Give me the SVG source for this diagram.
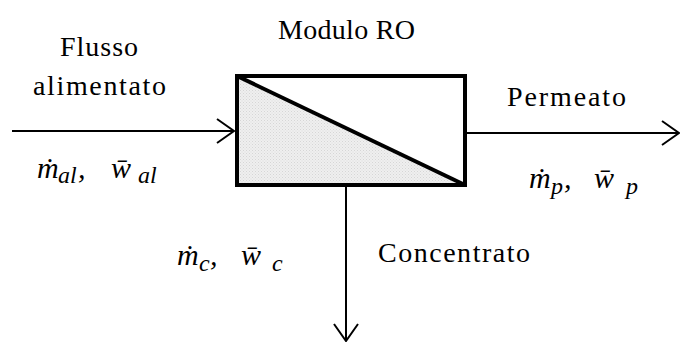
<svg xmlns="http://www.w3.org/2000/svg" width="680" height="342" viewBox="0 0 680 342">
  <style>
    .lbl { font-family: "Liberation Serif", "Times New Roman", serif; font-size: 28px; fill: #000; }
    .math { font-family: "Liberation Serif", "Times New Roman", serif; font-style: italic; font-size: 30px; fill: #000; }
    .sub { font-size: 24px; }
    .conn { stroke: #000; stroke-width: 2; fill: none; }
    .box { stroke: #000; stroke-width: 4; }
  </style>
  <defs>
    <pattern id="dots" width="3" height="3" patternUnits="userSpaceOnUse">
      <rect width="3" height="3" fill="#efefef"/>
      <rect x="0" y="0" width="1" height="1" fill="#d6d6d6"/>
      <rect x="1.5" y="1.5" width="1" height="1" fill="#dcdcdc"/>
    </pattern>
    <marker id="arrow" markerUnits="userSpaceOnUse" markerWidth="24" markerHeight="30" viewBox="-20 -15 24 30" refX="0" refY="0" orient="auto" overflow="visible">
      <path d="M-17,-12 L0,0 L-17,12" fill="none" stroke="#000" stroke-width="2"/>
    </marker>
  </defs>
  <rect width="680" height="342" fill="#fff"/>

  <g id="connectors">
    <line class="conn" x1="12" y1="131" x2="234" y2="131" marker-end="url(#arrow)"/>
    <line class="conn" x1="467" y1="133" x2="679" y2="133" marker-end="url(#arrow)"/>
    <line class="conn" x1="346" y1="187" x2="346" y2="341" marker-end="url(#arrow)"/>
  </g>

  <g id="module">
    <rect x="237" y="76" width="228" height="109" fill="#fff" class="box"/>
    <polygon points="237,76 465,185 237,185" fill="url(#dots)"/>
    <rect x="237" y="76" width="228" height="109" fill="none" class="box"/>
    <line x1="237" y1="76" x2="465" y2="185" class="box"/>
    <text class="lbl" x="278" y="39" textLength="137" lengthAdjust="spacing">Modulo RO</text>
  </g>

  <g id="feed-label">
    <text class="lbl" x="60" y="56" textLength="78" lengthAdjust="spacing">Flusso</text>
    <text class="lbl" x="33" y="95" textLength="133" lengthAdjust="spacing">alimentato</text>
    <text class="math" y="178"><tspan x="37">ṁ</tspan><tspan class="sub" x="58" y="183">al</tspan><tspan x="78" y="178">,</tspan><tspan x="111" y="178">w̄</tspan><tspan class="sub" x="138" y="183">al</tspan></text>
  </g>

  <g id="permeate-label">
    <text class="lbl" x="507" y="106" textLength="119" lengthAdjust="spacing">Permeato</text>
    <text class="math" y="188"><tspan x="529">ṁ</tspan><tspan class="sub" x="551" y="194">p</tspan><tspan x="564" y="188">,</tspan><tspan x="594" y="188">w̄</tspan><tspan class="sub" x="626" y="194">p</tspan></text>
  </g>

  <g id="concentrate-label">
    <text class="lbl" x="378" y="262" textLength="152" lengthAdjust="spacing">Concentrato</text>
    <text class="math" y="265"><tspan x="177">ṁ</tspan><tspan class="sub" x="199" y="271">c</tspan><tspan x="210" y="265">,</tspan><tspan x="241" y="265">w̄</tspan><tspan class="sub" x="272" y="271">c</tspan></text>
  </g>
</svg>
